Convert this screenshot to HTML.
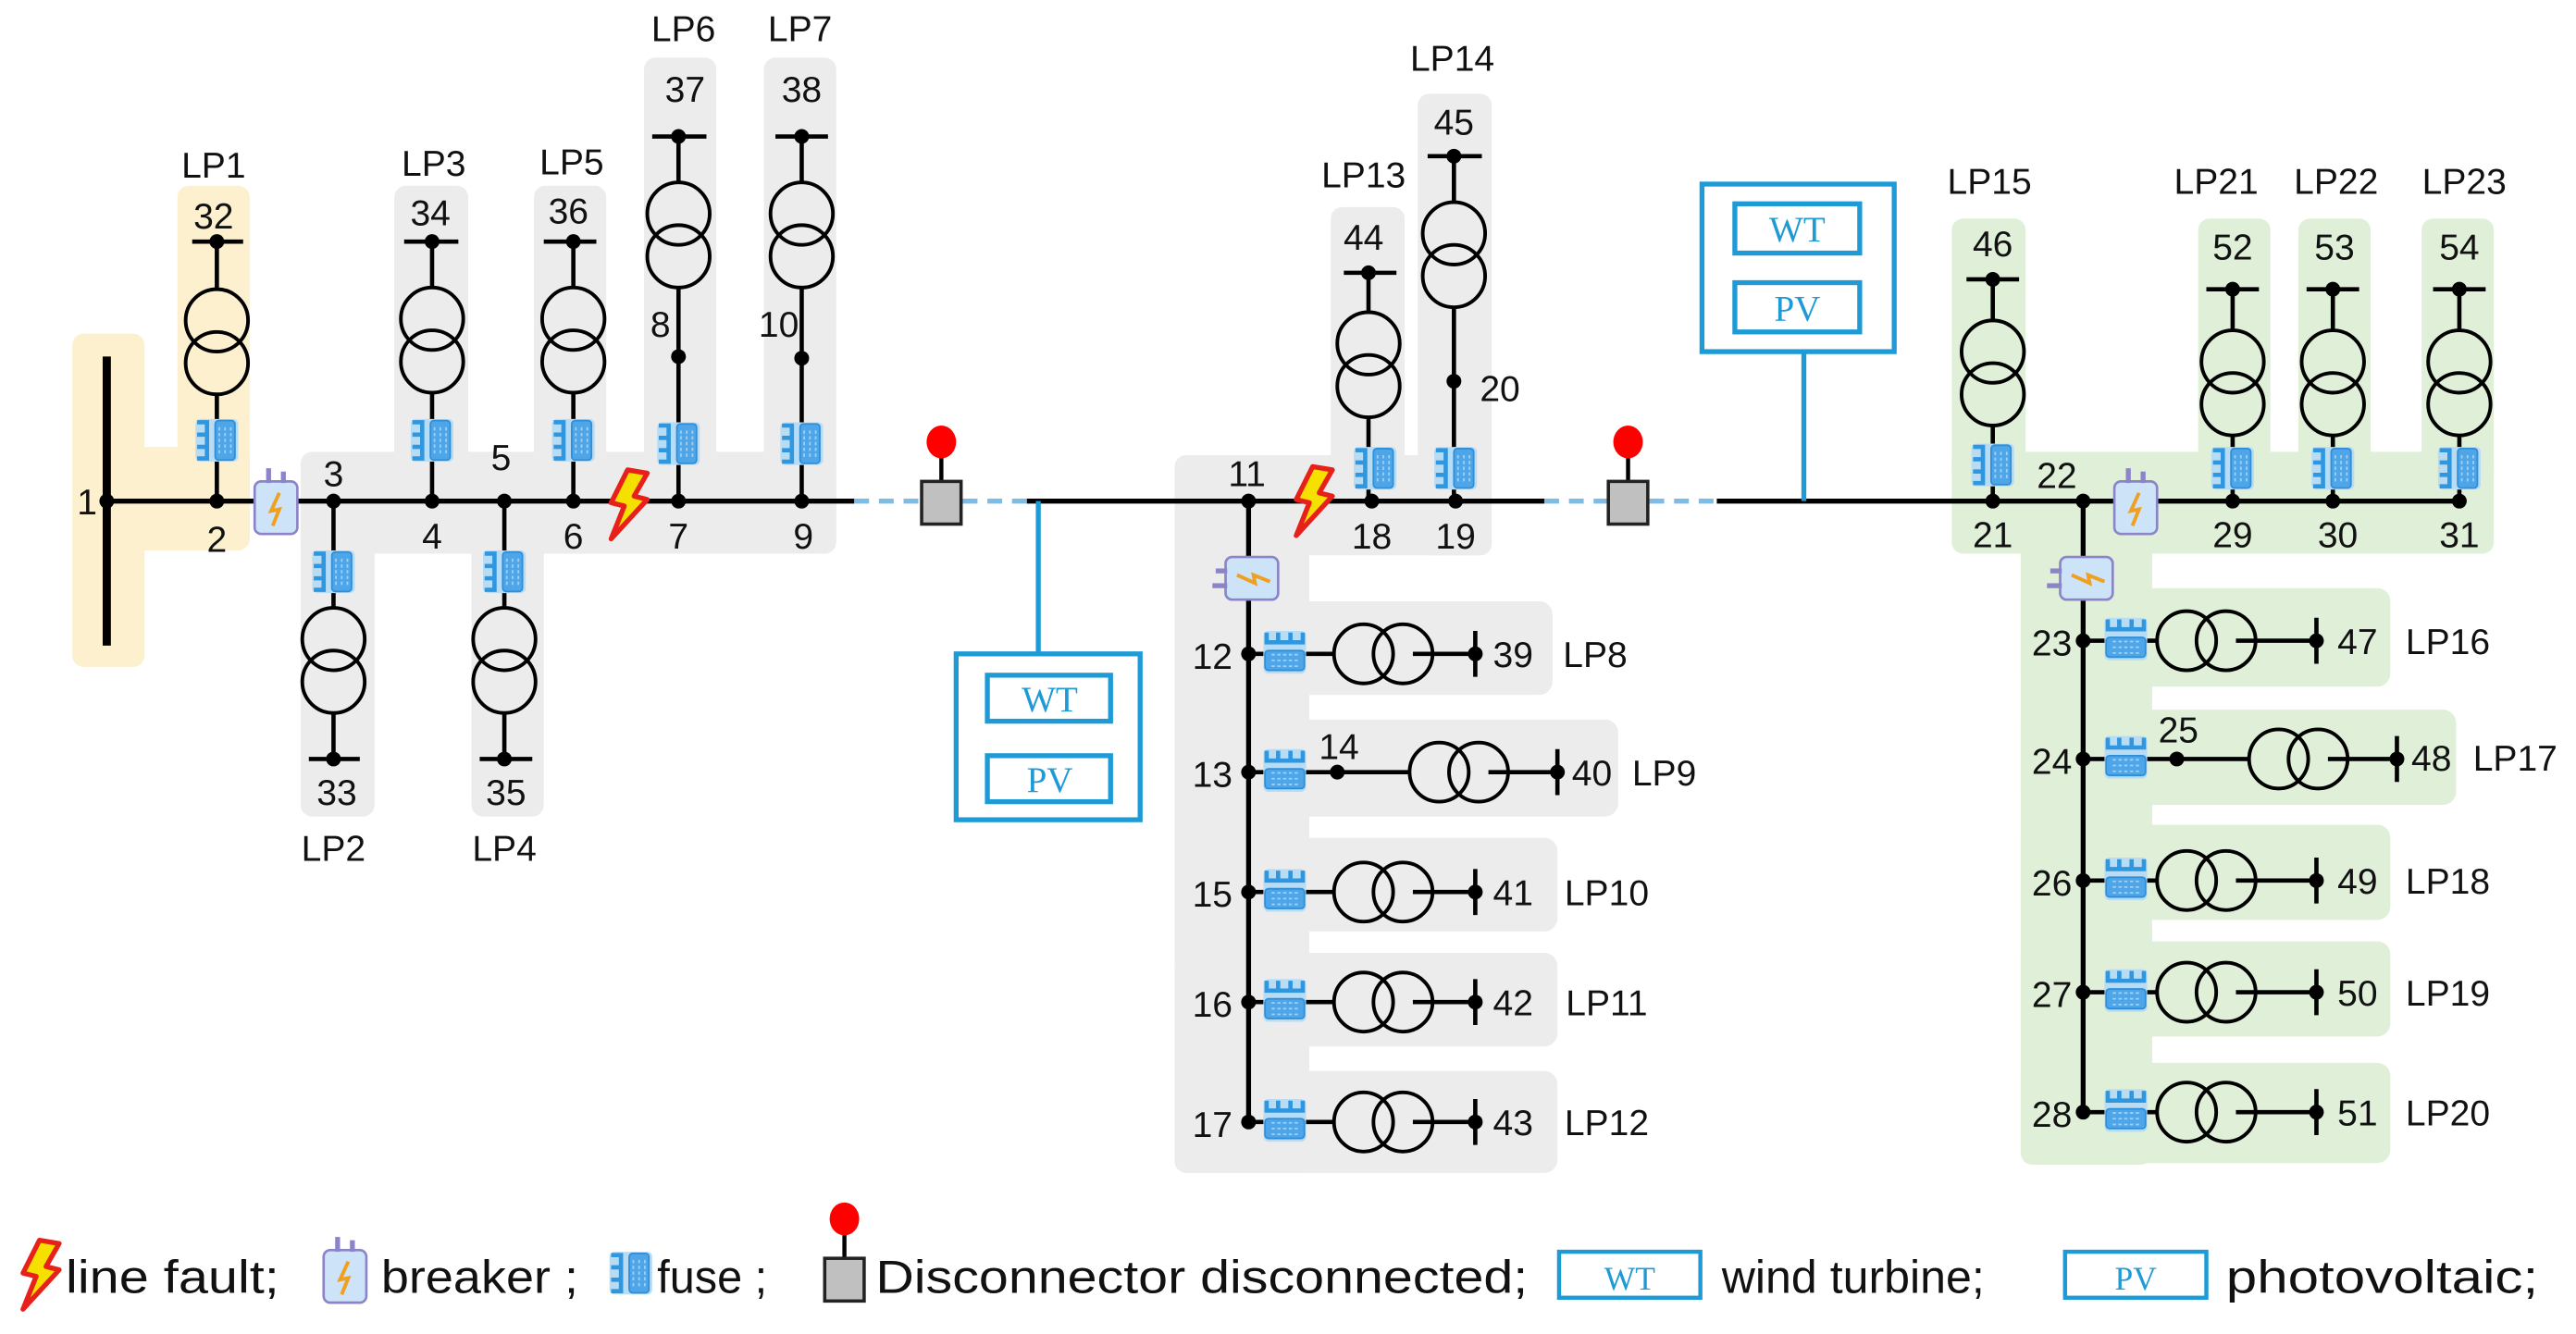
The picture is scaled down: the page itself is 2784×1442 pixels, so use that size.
<!DOCTYPE html>
<html><head><meta charset="utf-8"><style>
html,body{margin:0;padding:0;background:#fff}
svg{display:block}
text{font-family:"Liberation Sans",sans-serif;fill:#111}
</style></head><body>
<svg width="2784" height="1442" viewBox="0 0 1568 812" xmlns="http://www.w3.org/2000/svg">
<defs>
<g id="tv"><circle cx="0" cy="-13" r="19" fill="none" stroke="#000" stroke-width="2.2"/><circle cx="0" cy="13" r="19" fill="none" stroke="#000" stroke-width="2.2"/></g>
<g id="th"><circle cx="-12" cy="0" r="18" fill="none" stroke="#000" stroke-width="2.2"/><circle cx="12" cy="0" r="18" fill="none" stroke="#000" stroke-width="2.2"/></g>
<g id="fv"><rect x="-13" y="-13" width="26" height="26" rx="3" fill="#b9dcf5"/><rect x="-1" y="-12" width="12" height="24" rx="2" fill="#4ea6e8" stroke="#2f8ed8" stroke-width="1"/><path d="M1.5 -8 v16 M5 -8 v16 M8.5 -8 v16" stroke="#9fd0f5" stroke-width="1" stroke-dasharray="2,1.5"/><path d="M-12 -11 h6 v22 h-6 M-12 -3.5 h6 M-12 4 h6" fill="none" stroke="#2f96e0" stroke-width="2.6"/></g>
<g id="fh"><g transform="rotate(90)"><use href="#fv"/></g></g>
<g id="brk"><rect x="-13" y="-16" width="26" height="32" rx="4" fill="#cde3f8" stroke="#8b84c8" stroke-width="1.5"/><rect x="-6" y="-24" width="3" height="9" fill="#8b84c8"/><rect x="3" y="-22" width="3" height="7" fill="#8b84c8"/><path d="M2 -9 L-3 2 L2 1 L-2 11" fill="none" stroke="#f0a020" stroke-width="2.2"/></g>
<g id="brkh"><g transform="rotate(-90)"><use href="#brk"/></g></g>
<g id="flt"><path d="M2 -20 L14 -18 L6 -4 L14 -2 L-8 22 L0 2 L-8 0 Z" fill="#f5e000" stroke="#e8201a" stroke-width="3" stroke-linejoin="round"/></g>
<g id="dis"><line x1="0" y1="-28" x2="0" y2="-12" stroke="#000" stroke-width="2.5"/><ellipse cx="0" cy="-36" rx="9" ry="10" fill="#f00"/><rect x="-12" y="-12" width="24" height="26" fill="#c0c0c0" stroke="#222" stroke-width="2"/></g>
</defs>

<g fill="#fdf0cf">
<rect x="44" y="203" width="44" height="203" rx="7"/>
<rect x="80" y="272" width="72" height="63" rx="7"/>
<rect x="108" y="113" width="44" height="222" rx="7"/>
</g>
<g fill="#ececec">
<rect x="183" y="275" width="326" height="62" rx="7"/>
<rect x="183" y="300" width="45" height="197" rx="7"/>
<rect x="240" y="113" width="45" height="180" rx="7"/>
<rect x="287" y="300" width="44" height="197" rx="7"/>
<rect x="325" y="113" width="44" height="180" rx="7"/>
<rect x="392" y="35" width="44" height="260" rx="7"/>
<rect x="465" y="35" width="44" height="302" rx="7"/>
<rect x="715" y="277" width="193" height="61" rx="7"/>
<rect x="810" y="126" width="45" height="170" rx="7"/>
<rect x="863" y="57" width="45" height="281" rx="7"/>
<rect x="715" y="290" width="82" height="424" rx="7"/>
<rect x="715" y="366" width="230" height="57" rx="8"/>
<rect x="715" y="438" width="270" height="59" rx="8"/>
<rect x="715" y="510" width="233" height="57" rx="8"/>
<rect x="715" y="580" width="233" height="57" rx="8"/>
<rect x="715" y="652" width="233" height="62" rx="8"/>
</g>
<g fill="#e0f0d8">
<rect x="1188" y="275" width="330" height="62" rx="7"/>
<rect x="1188" y="133" width="45" height="160" rx="7"/>
<rect x="1338" y="133" width="44" height="160" rx="7"/>
<rect x="1399" y="133" width="44" height="160" rx="7"/>
<rect x="1474" y="133" width="44" height="160" rx="7"/>
<rect x="1230" y="290" width="80" height="419" rx="7"/>
<rect x="1230" y="358" width="225" height="60" rx="8"/>
<rect x="1230" y="432" width="265" height="58" rx="8"/>
<rect x="1230" y="502" width="225" height="58" rx="8"/>
<rect x="1230" y="573" width="225" height="58" rx="8"/>
<rect x="1230" y="647" width="225" height="61" rx="8"/>
</g>

<g stroke="#000" stroke-width="3" fill="none">
<line x1="65" y1="217" x2="65" y2="393" stroke-width="5"/>
<line x1="65" y1="305" x2="520" y2="305"/>
<line x1="625" y1="305" x2="940" y2="305"/>
<line x1="1045" y1="305" x2="1498" y2="305"/>
<line x1="760" y1="305" x2="760" y2="683"/>
<line x1="1268" y1="305" x2="1268" y2="677"/>
</g>
<g stroke="#7cbde8" stroke-width="3" stroke-dasharray="9,6">
<line x1="520" y1="305" x2="560" y2="305"/><line x1="586" y1="305" x2="625" y2="305"/>
<line x1="940" y1="305" x2="978" y2="305"/><line x1="1004" y1="305" x2="1045" y2="305"/>
</g>

<g stroke="#000" stroke-width="2.6">
<line x1="117" y1="147" x2="148" y2="147"/><line x1="132" y1="147" x2="132" y2="176"/><line x1="132" y1="240" x2="132" y2="305"/>
<line x1="246" y1="147" x2="279" y2="147"/><line x1="263" y1="147" x2="263" y2="175"/><line x1="263" y1="239" x2="263" y2="305"/>
<line x1="331" y1="147" x2="363" y2="147"/><line x1="349" y1="147" x2="349" y2="175"/><line x1="349" y1="239" x2="349" y2="305"/>
<line x1="397" y1="83" x2="430" y2="83"/><line x1="413" y1="83" x2="413" y2="111"/><line x1="413" y1="175" x2="413" y2="305"/>
<line x1="472" y1="83" x2="504" y2="83"/><line x1="488" y1="83" x2="488" y2="111"/><line x1="488" y1="175" x2="488" y2="305"/>
<line x1="188" y1="462" x2="219" y2="462"/><line x1="203" y1="305" x2="203" y2="370"/><line x1="203" y1="434" x2="203" y2="462"/>
<line x1="292" y1="462" x2="324" y2="462"/><line x1="307" y1="305" x2="307" y2="370"/><line x1="307" y1="434" x2="307" y2="462"/>
<line x1="818" y1="166" x2="850" y2="166"/><line x1="833" y1="166" x2="833" y2="190"/><line x1="833" y1="254" x2="833" y2="305"/>
<line x1="869" y1="95" x2="902" y2="95"/><line x1="885" y1="95" x2="885" y2="123"/><line x1="885" y1="187" x2="885" y2="305"/>
<line x1="1197" y1="170" x2="1229" y2="170"/><line x1="1213" y1="170" x2="1213" y2="195"/><line x1="1213" y1="259" x2="1213" y2="305"/>
<line x1="1343" y1="176" x2="1375" y2="176"/><line x1="1359" y1="176" x2="1359" y2="201"/><line x1="1359" y1="265" x2="1359" y2="305"/>
<line x1="1404" y1="176" x2="1436" y2="176"/><line x1="1420" y1="176" x2="1420" y2="201"/><line x1="1420" y1="265" x2="1420" y2="305"/>
<line x1="1481" y1="176" x2="1513" y2="176"/><line x1="1497" y1="176" x2="1497" y2="201"/><line x1="1497" y1="265" x2="1497" y2="305"/>
<line x1="760" y1="398" x2="812" y2="398"/><line x1="860" y1="398" x2="898" y2="398"/><line x1="898" y1="384" x2="898" y2="412"/>
<line x1="760" y1="470" x2="858" y2="470"/><line x1="906" y1="470" x2="948" y2="470"/><line x1="948" y1="456" x2="948" y2="484"/>
<line x1="760" y1="543" x2="812" y2="543"/><line x1="860" y1="543" x2="898" y2="543"/><line x1="898" y1="529" x2="898" y2="557"/>
<line x1="760" y1="610" x2="812" y2="610"/><line x1="860" y1="610" x2="898" y2="610"/><line x1="898" y1="596" x2="898" y2="624"/>
<line x1="760" y1="683" x2="812" y2="683"/><line x1="860" y1="683" x2="898" y2="683"/><line x1="898" y1="669" x2="898" y2="697"/>
<line x1="1268" y1="390" x2="1313" y2="390"/><line x1="1361" y1="390" x2="1410" y2="390"/><line x1="1410" y1="376" x2="1410" y2="404"/>
<line x1="1268" y1="462" x2="1369" y2="462"/><line x1="1417" y1="462" x2="1459" y2="462"/><line x1="1459" y1="448" x2="1459" y2="476"/>
<line x1="1268" y1="536" x2="1313" y2="536"/><line x1="1361" y1="536" x2="1410" y2="536"/><line x1="1410" y1="522" x2="1410" y2="550"/>
<line x1="1268" y1="604" x2="1313" y2="604"/><line x1="1361" y1="604" x2="1410" y2="604"/><line x1="1410" y1="590" x2="1410" y2="618"/>
<line x1="1268" y1="677" x2="1313" y2="677"/><line x1="1361" y1="677" x2="1410" y2="677"/><line x1="1410" y1="663" x2="1410" y2="691"/>
</g>

<use href="#tv" x="132" y="208"/><use href="#tv" x="263" y="207"/><use href="#tv" x="349" y="207"/>
<use href="#tv" x="413" y="143"/><use href="#tv" x="488" y="143"/>
<use href="#tv" x="203" y="402"/><use href="#tv" x="307" y="402"/>
<use href="#tv" x="833" y="222"/><use href="#tv" x="885" y="155"/>
<use href="#tv" x="1213" y="227"/><use href="#tv" x="1359" y="233"/><use href="#tv" x="1420" y="233"/><use href="#tv" x="1497" y="233"/>
<use href="#th" x="842" y="398"/><use href="#th" x="888" y="470"/><use href="#th" x="842" y="543"/><use href="#th" x="842" y="610"/><use href="#th" x="842" y="683"/>
<use href="#th" x="1343" y="390"/><use href="#th" x="1399" y="462"/><use href="#th" x="1343" y="536"/><use href="#th" x="1343" y="604"/><use href="#th" x="1343" y="677"/>

<use href="#fv" x="132" y="268"/><use href="#fv" x="263" y="268"/><use href="#fv" x="349" y="268"/><use href="#fv" x="413" y="270"/><use href="#fv" x="488" y="270"/>
<use href="#fv" x="203" y="348"/><use href="#fv" x="307" y="348"/>
<use href="#fv" x="837" y="285"/><use href="#fv" x="886" y="285"/>
<use href="#fv" x="1213" y="283"/><use href="#fv" x="1359" y="285"/><use href="#fv" x="1420" y="285"/><use href="#fv" x="1497" y="285"/>
<use href="#fh" x="782" y="397"/><use href="#fh" x="782" y="469"/><use href="#fh" x="782" y="542"/><use href="#fh" x="782" y="609"/><use href="#fh" x="782" y="682"/>
<use href="#fh" x="1294" y="389"/><use href="#fh" x="1294" y="461"/><use href="#fh" x="1294" y="535"/><use href="#fh" x="1294" y="603"/><use href="#fh" x="1294" y="676"/>

<use href="#brk" x="168" y="309"/><use href="#brk" x="1300" y="309"/>
<use href="#brkh" x="762" y="352"/><use href="#brkh" x="1270" y="352"/>
<use href="#flt" x="380" y="306"/><use href="#flt" x="797" y="304"/>
<use href="#dis" x="573" y="305"/><use href="#dis" x="991" y="305"/>

<g fill="#000">
<circle cx="65" cy="305" r="4.5"/><circle cx="132" cy="305" r="4.5"/><circle cx="203" cy="305" r="4.5"/><circle cx="263" cy="305" r="4.5"/><circle cx="307" cy="305" r="4.5"/><circle cx="349" cy="305" r="4.5"/><circle cx="413" cy="305" r="4.5"/><circle cx="488" cy="305" r="4.5"/>
<circle cx="132" cy="147" r="4.5"/><circle cx="263" cy="147" r="4.5"/><circle cx="349" cy="147" r="4.5"/><circle cx="413" cy="83" r="4.5"/><circle cx="488" cy="83" r="4.5"/><circle cx="413" cy="217" r="4.5"/><circle cx="488" cy="218" r="4.5"/>
<circle cx="203" cy="462" r="4.5"/><circle cx="307" cy="462" r="4.5"/>
<circle cx="760" cy="305" r="4.5"/><circle cx="835" cy="305" r="4.5"/><circle cx="886" cy="305" r="4.5"/><circle cx="833" cy="166" r="4.5"/><circle cx="885" cy="95" r="4.5"/><circle cx="885" cy="232" r="4.5"/>
<circle cx="760" cy="398" r="4.5"/><circle cx="760" cy="470" r="4.5"/><circle cx="760" cy="543" r="4.5"/><circle cx="760" cy="610" r="4.5"/><circle cx="760" cy="683" r="4.5"/><circle cx="814" cy="470" r="4.5"/>
<circle cx="898" cy="398" r="4.5"/><circle cx="948" cy="470" r="4.5"/><circle cx="898" cy="543" r="4.5"/><circle cx="898" cy="610" r="4.5"/><circle cx="898" cy="683" r="4.5"/>
<circle cx="1213" cy="305" r="4.5"/><circle cx="1268" cy="305" r="4.5"/><circle cx="1359" cy="305" r="4.5"/><circle cx="1420" cy="305" r="4.5"/><circle cx="1497" cy="305" r="4.5"/>
<circle cx="1213" cy="170" r="4.5"/><circle cx="1359" cy="176" r="4.5"/><circle cx="1420" cy="176" r="4.5"/><circle cx="1497" cy="176" r="4.5"/>
<circle cx="1268" cy="390" r="4.5"/><circle cx="1268" cy="462" r="4.5"/><circle cx="1268" cy="536" r="4.5"/><circle cx="1268" cy="604" r="4.5"/><circle cx="1268" cy="677" r="4.5"/><circle cx="1325" cy="462" r="4.5"/>
<circle cx="1410" cy="390" r="4.5"/><circle cx="1459" cy="462" r="4.5"/><circle cx="1410" cy="536" r="4.5"/><circle cx="1410" cy="604" r="4.5"/><circle cx="1410" cy="677" r="4.5"/>
</g>

<g stroke="#1e9ad6" fill="none" stroke-width="3">
<line x1="632" y1="305" x2="632" y2="398"/>
<rect x="582" y="398" width="112" height="101"/>
<rect x="601" y="411" width="75" height="28"/><rect x="601" y="460" width="75" height="28"/>
<line x1="1098" y1="214" x2="1098" y2="305"/>
<rect x="1036" y="112" width="117" height="102"/>
<rect x="1056" y="124" width="76" height="30"/><rect x="1056" y="172" width="76" height="30"/>
<rect x="949" y="762" width="86" height="28" stroke-width="2.5"/><rect x="1257" y="762" width="86" height="28" stroke-width="2.5"/>
</g>
<g font-size="22" text-anchor="middle">
<text x="639" y="433" style="fill:#1e9ad6;font-family:'Liberation Serif',serif">WT</text>
<text x="639" y="482" style="fill:#1e9ad6;font-family:'Liberation Serif',serif">PV</text>
<text x="1094" y="147" style="fill:#1e9ad6;font-family:'Liberation Serif',serif">WT</text>
<text x="1094" y="195" style="fill:#1e9ad6;font-family:'Liberation Serif',serif">PV</text>
<text x="992" y="785" style="fill:#1e9ad6;font-family:'Liberation Serif',serif" font-size="20">WT</text>
<text x="1300" y="785" style="fill:#1e9ad6;font-family:'Liberation Serif',serif" font-size="20">PV</text>
</g>

<g font-size="22" text-anchor="middle">
<text x="53" y="313">1</text><text x="132" y="336">2</text><text x="203" y="296">3</text><text x="263" y="334">4</text><text x="305" y="286">5</text><text x="349" y="334">6</text><text x="413" y="334">7</text><text x="402" y="205">8</text><text x="489" y="334">9</text><text x="474" y="205">10</text>
<text x="130" y="139">32</text><text x="130" y="108">LP1</text>
<text x="262" y="137">34</text><text x="264" y="107">LP3</text>
<text x="346" y="136">36</text><text x="348" y="106">LP5</text>
<text x="417" y="62">37</text><text x="416" y="25">LP6</text>
<text x="488" y="62">38</text><text x="487" y="25">LP7</text>
<text x="205" y="490">33</text><text x="203" y="524">LP2</text>
<text x="308" y="490">35</text><text x="307" y="524">LP4</text>
<text x="759" y="296">11</text><text x="835" y="334">18</text><text x="886" y="334">19</text><text x="913" y="244">20</text>
<text x="830" y="152">44</text><text x="830" y="114">LP13</text>
<text x="885" y="82">45</text><text x="884" y="43">LP14</text>
<text x="738" y="407">12</text><text x="738" y="479">13</text><text x="815" y="462">14</text><text x="738" y="552">15</text><text x="738" y="619">16</text><text x="738" y="692">17</text>
<text x="921" y="406">39</text><text x="971" y="406">LP8</text>
<text x="969" y="478">40</text><text x="1013" y="478">LP9</text>
<text x="921" y="551">41</text><text x="978" y="551">LP10</text>
<text x="921" y="618">42</text><text x="978" y="618">LP11</text>
<text x="921" y="691">43</text><text x="978" y="691">LP12</text>
<text x="1213" y="333">21</text><text x="1252" y="297">22</text><text x="1359" y="333">29</text><text x="1423" y="333">30</text><text x="1497" y="333">31</text>
<text x="1213" y="156">46</text><text x="1211" y="118">LP15</text>
<text x="1359" y="158">52</text><text x="1349" y="118">LP21</text>
<text x="1421" y="158">53</text><text x="1422" y="118">LP22</text>
<text x="1497" y="158">54</text><text x="1500" y="118">LP23</text>
<text x="1249" y="399">23</text><text x="1249" y="471">24</text><text x="1326" y="452">25</text><text x="1249" y="545">26</text><text x="1249" y="613">27</text><text x="1249" y="686">28</text>
<text x="1435" y="398">47</text><text x="1490" y="398">LP16</text>
<text x="1480" y="469">48</text><text x="1531" y="469">LP17</text>
<text x="1435" y="544">49</text><text x="1490" y="544">LP18</text>
<text x="1435" y="612">50</text><text x="1490" y="612">LP19</text>
<text x="1435" y="685">51</text><text x="1490" y="685">LP20</text>
</g>

<use href="#flt" x="22" y="775"/>
<use href="#brk" x="210" y="777"/>
<use href="#fv" x="384" y="775"/>
<use href="#dis" x="514" y="778"/>
<g font-size="28">
<text x="40" y="787" textLength="130" lengthAdjust="spacingAndGlyphs">line fault;</text>
<text x="232" y="787" textLength="120" lengthAdjust="spacingAndGlyphs">breaker ;</text>
<text x="400" y="787" textLength="67" lengthAdjust="spacingAndGlyphs">fuse ;</text>
<text x="533" y="787" textLength="397" lengthAdjust="spacingAndGlyphs">Disconnector disconnected;</text>
<text x="1048" y="787" textLength="160" lengthAdjust="spacingAndGlyphs">wind turbine;</text>
<text x="1355" y="787" textLength="190" lengthAdjust="spacingAndGlyphs">photovoltaic;</text>
</g>
</svg>
</body></html>
